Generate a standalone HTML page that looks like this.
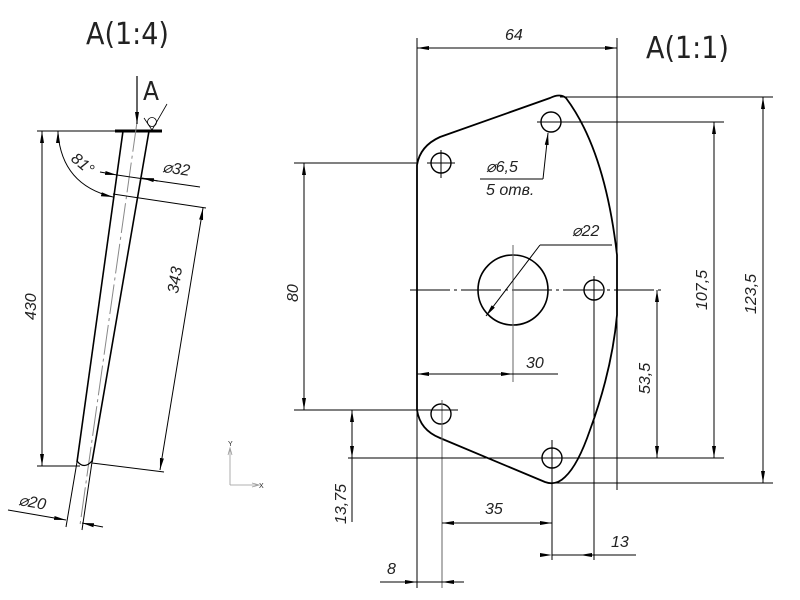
<!DOCTYPE html>
<html><head><meta charset="utf-8"><style>
html,body{margin:0;padding:0;background:#fff;width:800px;height:600px;overflow:hidden}
svg{display:block}
text{font-family:"Liberation Sans",sans-serif;fill:#222}
.t{font-style:italic;font-size:16px}
</style></head><body>
<svg width="800" height="600" viewBox="0 0 800 600" xmlns="http://www.w3.org/2000/svg">
<defs>
<marker id="a" markerWidth="12" markerHeight="6" refX="12" refY="3" orient="auto" markerUnits="userSpaceOnUse"><path d="M0,1 L12,3 L0,5z" fill="#000"/></marker>
<marker id="b" markerWidth="12" markerHeight="6" refX="0" refY="3" orient="auto" markerUnits="userSpaceOnUse"><path d="M12,1 L0,3 L12,5z" fill="#000"/></marker>
</defs>
<text x="86" y="44" font-size="30" style="font-family:'DejaVu Sans Condensed','Liberation Sans',sans-serif;font-weight:200">A(1:4)</text>
<text x="646" y="58" font-size="30" style="font-family:'DejaVu Sans Condensed','Liberation Sans',sans-serif;font-weight:200">A(1:1)</text>

<g stroke="#000" fill="none">
<line x1="115" y1="131" x2="162" y2="131" stroke-width="3"/>
<line x1="123" y1="131" x2="77" y2="462" stroke-width="1.6"/>
<line x1="149" y1="131" x2="92" y2="462" stroke-width="1.6"/>
<line x1="137" y1="122" x2="80" y2="525" stroke="#888" stroke-dasharray="30,4,3,4"/>
<path d="M77,461 Q84,470 92,461" stroke-width="1.3"/>
<line x1="77" y1="462" x2="66" y2="527"/>
<line x1="92" y1="462" x2="82" y2="530"/>
<line x1="8" y1="510" x2="66" y2="520" marker-end="url(#a)"/>
<line x1="82" y1="523" x2="103" y2="527" marker-start="url(#b)"/>
<line x1="37" y1="131" x2="120" y2="131"/>
<line x1="37" y1="466" x2="80" y2="466"/>
<line x1="42" y1="131" x2="42" y2="466" marker-start="url(#b)" marker-end="url(#a)"/>
<line x1="113" y1="194" x2="206" y2="208"/>
<line x1="92" y1="463" x2="164" y2="472"/>
<line x1="203" y1="208" x2="160" y2="470" marker-start="url(#b)" marker-end="url(#a)"/>
<line x1="117" y1="175" x2="200" y2="187"/>
<line x1="100" y1="172" x2="117" y2="175" marker-end="url(#a)"/>
<line x1="142" y1="178" x2="158" y2="181" marker-start="url(#b)"/>
<path d="M58,133 Q62,185 113,197" marker-end="url(#a)"/>
<line x1="58" y1="131" x2="58" y2="143" marker-start="url(#b)"/>
<line x1="137" y1="76" x2="137" y2="124" stroke-width="1.2" marker-end="url(#a)"/>
<path d="M144,118 L152,130 L167,104" stroke-width="0.8"/>
<circle cx="152" cy="122" r="4.5" stroke-width="0.8"/>
</g>
<text x="143" y="100" font-size="26" style="font-family:'DejaVu Sans Condensed','Liberation Sans',sans-serif;font-weight:200">A</text>
<text class="t" transform="translate(36,320) rotate(-90)">430</text>
<text class="t" transform="translate(178,294) rotate(-81)">343</text>
<text class="t" transform="translate(162,172) rotate(8)">⌀32</text>
<text class="t" font-size="15" transform="translate(70,160) rotate(40)">81°</text>
<text class="t" transform="translate(18,505) rotate(10)">⌀20</text>

<g stroke="#999" fill="none" stroke-width="0.8">
<line x1="230" y1="448" x2="230" y2="485"/><line x1="230" y1="485" x2="258" y2="485"/>
<path d="M228,455 L230,448 L232,455"/><path d="M252,483 L259,485 L252,487"/>
</g>
<text x="228" y="446" font-size="7" fill="#999">Y</text>
<text x="259" y="488" font-size="7" fill="#999">X</text>

<g stroke="#000" fill="none">
<path d="M417,410 L417,165 Q420,146 440,137 L550,98 Q560,93 566,98 Q605,150 617,255 L617,315 Q612,370 590,430 Q578,465 565,477 Q556,486 545,482 L440,438 Q420,430 417,410 Z" stroke-width="1.8"/>
<circle cx="441" cy="163" r="10" stroke-width="1.4"/>
<circle cx="551" cy="122" r="10" stroke-width="1.4"/>
<circle cx="594" cy="290" r="10" stroke-width="1.4"/>
<circle cx="441" cy="414" r="10" stroke-width="1.4"/>
<circle cx="552" cy="458" r="10" stroke-width="1.4"/>
<circle cx="513" cy="290" r="35" stroke-width="1.6"/>
<line x1="410" y1="290" x2="662" y2="290" stroke-dasharray="40,4,3,4"/>
<line x1="513" y1="245" x2="513" y2="382" stroke="#666"/>
<line x1="441" y1="150" x2="441" y2="178"/>
<line x1="427" y1="163" x2="455" y2="163"/>
<line x1="594" y1="276" x2="594" y2="560"/>
<line x1="442" y1="400" x2="442" y2="588" stroke="#666"/>
<line x1="552" y1="440" x2="552" y2="560"/>
<line x1="417" y1="38" x2="417" y2="588"/>
<line x1="617" y1="38" x2="617" y2="490"/>
<line x1="417" y1="48" x2="617" y2="48" marker-start="url(#b)" marker-end="url(#a)"/>
<line x1="560" y1="97" x2="773" y2="97"/>
<line x1="555" y1="483" x2="773" y2="483"/>
<line x1="763" y1="97" x2="763" y2="483" marker-start="url(#b)" marker-end="url(#a)"/>
<line x1="537" y1="122" x2="724" y2="122"/>
<line x1="348" y1="458" x2="724" y2="458"/>
<line x1="714" y1="122" x2="714" y2="458" marker-start="url(#b)" marker-end="url(#a)"/>
<line x1="657" y1="290" x2="657" y2="458" marker-start="url(#b)" marker-end="url(#a)"/>
<line x1="294" y1="163" x2="417" y2="163"/>
<line x1="294" y1="410" x2="458" y2="410"/>
<line x1="304" y1="163" x2="304" y2="410" marker-start="url(#b)" marker-end="url(#a)"/>
<line x1="352" y1="412" x2="352" y2="522"/>
<line x1="352" y1="425" x2="352" y2="410" marker-end="url(#a)"/>
<line x1="352" y1="443" x2="352" y2="458" marker-end="url(#a)"/>
<line x1="417" y1="374" x2="513" y2="374" marker-start="url(#b)" marker-end="url(#a)"/>
<line x1="513" y1="374" x2="558" y2="374"/>
<line x1="442" y1="523" x2="552" y2="523" marker-start="url(#b)" marker-end="url(#a)"/>
<line x1="552" y1="555" x2="636" y2="555"/>
<line x1="580" y1="555" x2="594" y2="555" marker-start="url(#b)"/>
<line x1="570" y1="555" x2="552" y2="555" marker-end="url(#b)"/>
<line x1="380" y1="582" x2="464" y2="582"/>
<line x1="405" y1="582" x2="417" y2="582" marker-end="url(#a)"/>
<line x1="454" y1="582" x2="442" y2="582" marker-end="url(#a)"/>
<line x1="540" y1="245" x2="486" y2="316" marker-end="url(#a)"/>
<line x1="540" y1="245" x2="612" y2="245"/>
<line x1="543" y1="179" x2="548" y2="133" marker-end="url(#a)"/>
<line x1="480" y1="179" x2="543" y2="179"/>
</g>
<text class="t" x="505" y="40">64</text>
<text class="t" transform="translate(756,314) rotate(-90)">123,5</text>
<text class="t" transform="translate(707,310) rotate(-90)">107,5</text>
<text class="t" transform="translate(650,394) rotate(-90)">53,5</text>
<text class="t" transform="translate(298,302) rotate(-90)">80</text>
<text class="t" transform="translate(346,524) rotate(-90)">13,75</text>
<text class="t" x="526" y="368">30</text>
<text class="t" x="485" y="514">35</text>
<text class="t" x="611" y="547">13</text>
<text class="t" x="387" y="574">8</text>
<text class="t" x="572" y="236">⌀22</text>
<text class="t" x="486" y="172">⌀6,5</text>
<text class="t" x="486" y="195">5 отв.</text>
</svg>
</body></html>
